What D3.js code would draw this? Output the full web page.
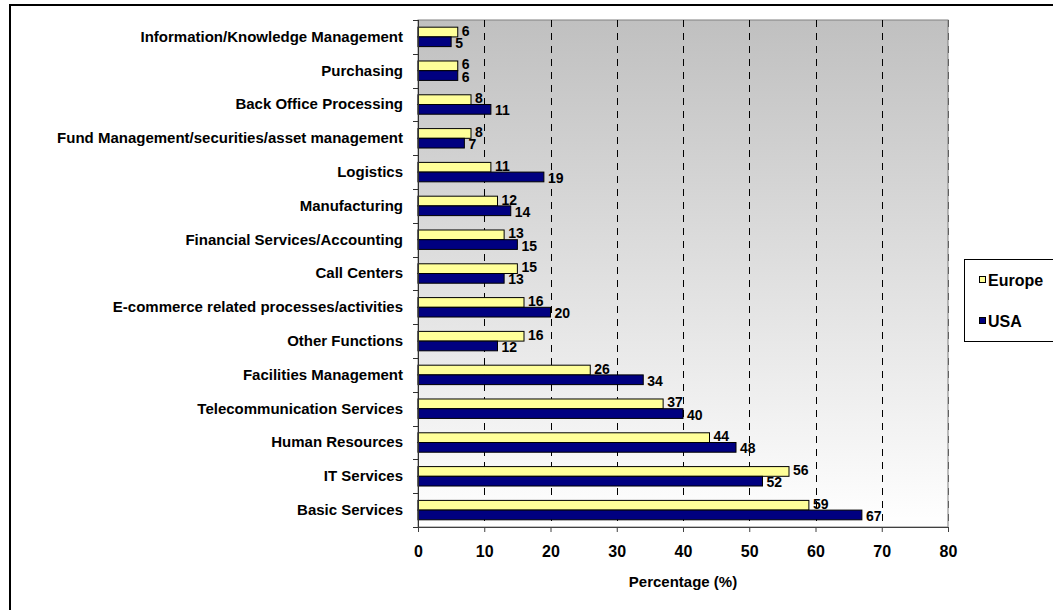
<!DOCTYPE html>
<html>
<head>
<meta charset="utf-8">
<script src="https://cdn.jsdelivr.net/npm/d3@7"></script>
<style>
  body { margin: 0; background: #fff; }
  svg { display: block; font-family: "Liberation Sans", Arial, sans-serif; font-weight: bold; }
</style>
</head>
<body>
<svg id="chart" width="1053" height="610"></svg>
<script>
// Functions, listed top to bottom
const categories = [
  "Information/Knowledge Management",
  "Purchasing",
  "Back Office Processing",
  "Fund Management/securities/asset management",
  "Logistics",
  "Manufacturing",
  "Financial Services/Accounting",
  "Call Centers",
  "E-commerce related processes/activities",
  "Other Functions",
  "Facilities Management",
  "Telecommunication Services",
  "Human Resources",
  "IT Services",
  "Basic Services"
];
const europe = [6, 6, 8, 8, 11, 12, 13, 15, 16, 16, 26, 37, 44, 56, 59];
const usa    = [5, 6, 11, 7, 19, 14, 15, 13, 20, 12, 34, 40, 48, 52, 67];
const seriesNames = ["Europe", "USA"];
const seriesColors = ["#FFFF99", "#000080"];
const xTicks = [0, 10, 20, 30, 40, 50, 60, 70, 80];
const xTitle = "Percentage (%)";

const svg = d3.select("#chart");
const plot = { left: 418, right: 948, top: 20, bottom: 527 };

// outer frame
svg.append("rect")
  .attr("x", 10).attr("y", 5).attr("width", 1200).attr("height", 800)
  .attr("fill", "none").attr("stroke", "#000").attr("stroke-width", 2);

const defs = svg.append("defs");
const grad = defs.append("linearGradient").attr("id", "plotBg")
  .attr("x1", 0).attr("y1", 0).attr("x2", 0).attr("y2", 1);
grad.append("stop").attr("offset", "0%").attr("stop-color", "#c0c0c0");
grad.append("stop").attr("offset", "100%").attr("stop-color", "#ffffff");

const x = d3.scaleLinear().domain([0, 80]).range([plot.left, plot.right]);
const y = d3.scaleBand().domain(categories).range([plot.top, plot.bottom]).padding(0);
const ySub = d3.scaleBand().domain(seriesNames).range([0, y.bandwidth()])
  .paddingInner(0).paddingOuter(0.74);

// plot background
svg.append("rect")
  .attr("x", plot.left).attr("y", plot.top)
  .attr("width", plot.right - plot.left).attr("height", plot.bottom - plot.top)
  .attr("fill", "url(#plotBg)").attr("stroke", "#808080").attr("stroke-width", 1);

// dashed vertical gridlines
svg.append("g").selectAll("line")
  .data(xTicks.filter(d => d > 0))
  .join("line")
  .attr("x1", d => Math.round(x(d)) + 0.5).attr("x2", d => Math.round(x(d)) + 0.5)
  .attr("y1", plot.top).attr("y2", plot.bottom)
  .attr("stroke", d => d === 80 ? "#606060" : "#000")
  .attr("stroke-width", 1)
  .attr("stroke-dasharray", "7,6");

// bars
const rows = categories.map((c, i) => ({ cat: c, values: [europe[i], usa[i]] }));
const groups = svg.append("g").selectAll("g")
  .data(rows).join("g")
  .attr("transform", d => `translate(0,${y(d.cat)})`);

groups.selectAll("rect")
  .data(d => d.values.map((v, k) => ({ name: seriesNames[k], value: v, k })))
  .join("rect")
  .attr("x", x(0))
  .attr("y", d => ySub(d.name))
  .attr("width", d => x(d.value) - x(0))
  .attr("height", ySub.bandwidth())
  .attr("fill", d => seriesColors[d.k])
  .attr("stroke", "#000").attr("stroke-width", 1);

// value labels
groups.selectAll("text")
  .data(d => d.values.map((v, k) => ({ name: seriesNames[k], value: v, k })))
  .join("text")
  .attr("x", d => x(d.value) + 4)
  .attr("y", d => ySub(d.name) + ySub.bandwidth() / 2 + (d.k === 0 ? -1.5 : 1))
  .attr("dominant-baseline", "central")
  .attr("font-size", "14px")
  .attr("fill", "#000")
  .text(d => d.value);

// left axis with category labels
const yAxis = svg.append("g")
  .attr("transform", `translate(${plot.left},0)`)
  .call(d3.axisLeft(y).tickSize(0).tickPadding(15));
yAxis.select(".domain").remove();
yAxis.selectAll("text").attr("font-size", "15px").attr("font-family", null).attr("fill", "#000");

svg.append("line")
  .attr("x1", plot.left + 0.5).attr("x2", plot.left + 0.5)
  .attr("y1", plot.top).attr("y2", plot.bottom)
  .attr("stroke", "#303030");
const boundaries = categories.map(c => y(c)).concat([y.range()[1]]);
svg.append("g").selectAll("line")
  .data(boundaries).join("line")
  .attr("x1", plot.left - 5).attr("x2", plot.left)
  .attr("y1", d => Math.round(d) + 0.5).attr("y2", d => Math.round(d) + 0.5)
  .attr("stroke", "#303030");

// bottom axis
const xAxis = svg.append("g")
  .attr("transform", `translate(0,${plot.bottom})`)
  .call(d3.axisBottom(x).tickValues(xTicks).tickSize(5).tickSizeOuter(0).tickPadding(14));
xAxis.select(".domain").attr("stroke", "#404040");
xAxis.selectAll(".tick line").attr("stroke", "#404040");
xAxis.selectAll("text").attr("font-size", "16px").attr("font-family", null).attr("fill", "#000");

svg.append("text")
  .attr("x", (plot.left + plot.right) / 2).attr("y", 581)
  .attr("text-anchor", "middle").attr("dominant-baseline", "central")
  .attr("font-size", "15px")
  .text(xTitle);

// legend
const legend = svg.append("g");
legend.append("rect")
  .attr("x", 964.5).attr("y", 259.5).attr("width", 200).attr("height", 82)
  .attr("fill", "#fff").attr("stroke", "#000");
const items = legend.selectAll("g.item")
  .data(seriesNames).join("g").attr("class", "item")
  .attr("transform", (d, i) => `translate(979,${280 + i * 41})`);
items.append("rect")
  .attr("x", 0.5).attr("y", -3.5).attr("width", 6).attr("height", 6)
  .attr("fill", (d, i) => seriesColors[i]).attr("stroke", "#000");
items.append("text")
  .attr("x", 9).attr("y", 0)
  .attr("dominant-baseline", "central")
  .attr("font-size", "16px")
  .text(d => d);
</script>
</body>
</html>
